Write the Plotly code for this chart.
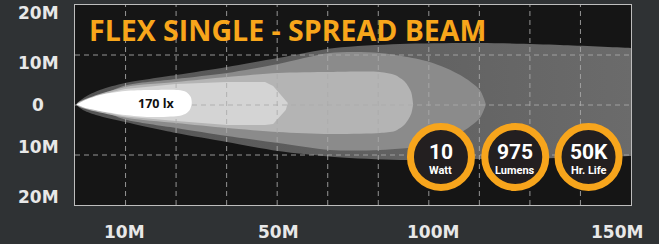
import plotly.graph_objects as go

# ---- axis labels / grid ----
x_tick_labels = ["10M", "50M", "100M", "150M"]
x_tick_pos = [0.97, 4.02, 7.09, 10.73]
y_tick_labels = ["20M", "10M", "0", "10M", "20M"]
y_tick_pos = [18.4, 8.4, 0.0, -8.4, -18.4]
grid_x = [1, 2, 3, 4, 5, 6, 7, 8, 9, 10]
grid_y = [-10, 0, 10]

# ---- beam contours (x in grid cells, y in metres) ----
outer_x = [0.03, 0.20, 0.49, 0.99, 2.00, 3.01, 4.02, 5.14, 6.43, 8.01, 9.59, 11.0, 11.4]
outer_top = [0.1, 1.6, 3.0, 4.4, 6.0, 7.6, 9.4, 11.4, 12.2, 12.4, 12.0, 11.4, 11.2]
outer_bot = [0.1, -1.2, -2.2, -3.4, -5.6, -7.4, -9.2, -10.4, -11.0, -10.8, -10.6, -10.2, -10.1]

mid_x = [0.03, 0.49, 0.99, 2.00, 3.01, 4.02, 5.04, 6.03, 7.02, 7.62, 8.01, 8.13]
mid_top = [0.1, 1.8, 3.9, 5.2, 6.4, 8.2, 10.4, 10.4, 8.6, 6.0, 3.0, 0.1]
mid_bot = [0.1, -1.0, -2.9, -4.6, -6.2, -7.6, -9.0, -9.0, -8.0, -5.6, -2.6, 0.1]

light_x = [0.03, 0.99, 2.00, 3.01, 4.02, 5.04, 6.03, 6.33, 6.53, 6.65, 6.69]
light_top = [0.1, 3.6, 4.6, 5.6, 6.4, 6.6, 6.6, 6.0, 4.6, 2.6, 0.1]
light_bot = [0.1, -2.5, -3.6, -4.6, -5.4, -5.8, -5.6, -5.2, -3.8, -1.8, 0.1]

pale_top_x = [0.03, 0.49, 0.99, 2.00, 3.01, 3.76, 3.92, 4.21]
pale_top = [0.1, 2.0, 3.2, 4.2, 4.6, 4.6, 3.8, 0.4]
pale_bot_x = [4.17, 3.92, 3.76, 3.01, 2.00, 0.99, 0.49]
pale_bot = [-1.0, -3.8, -4.0, -4.0, -3.2, -2.3, -1.2]

white_x = [0.03, 0.20, 0.49, 0.99, 1.48, 2.04, 2.20, 2.29, 2.31, 2.27, 2.18, 2.04, 1.48, 0.99, 0.49, 0.20]
white_y = [0.1, 1.0, 2.0, 2.8, 3.0, 3.0, 2.6, 1.6, 0.4, -1.0, -1.8, -2.2, -2.4, -2.0, -1.2, -0.6]

lux_label = "170 lx"
lux_pos = (1.62, 0.4)

title_text = "FLEX SINGLE - SPREAD BEAM"

# ---- badges ----
badge_x = [7.24, 8.71, 10.16]
badge_y = -10.4
badge_values = ["10", "975", "50K"]
badge_units = ["Watt", "Lumens", "Hr. Life"]

fig = go.Figure()


def band(xs, top, bot, color, shape="spline", grad=None):
    px = list(xs) + list(xs)[::-1]
    py = list(top) + list(bot)[::-1]
    kw = dict(fillcolor=color)
    if grad:
        kw = dict(fillgradient=dict(type="horizontal", colorscale=grad))
    fig.add_trace(go.Scatter(x=px, y=py, mode="lines", fill="toself",
                             line=dict(width=0, shape=shape, smoothing=0.8),
                             hoverinfo="skip", **kw))


band(outer_x, outer_top, outer_bot, "#626262", grad=[[0, "#545454"], [1, "#6c6c6c"]])
band(mid_x, mid_top, mid_bot, "#8b8b8b")
band(light_x, light_top, light_bot, "#b4b4b4")
fig.add_trace(go.Scatter(x=pale_top_x + pale_bot_x, y=pale_top + pale_bot, mode="lines",
                         fill="toself", fillcolor="#d4d4d4", line=dict(width=0),
                         hoverinfo="skip"))

# grid lines (above beam)
gx, gy = [], []
for v in grid_x:
    gx += [v, v, None]
    gy += [-20, 20, None]
for v in grid_y:
    gx += [0, 11, None]
    gy += [v, v, None]
fig.add_trace(go.Scatter(x=gx, y=gy, mode="lines",
                         line=dict(color="rgba(170,170,170,0.85)", width=1, dash="5px,4px"),
                         hoverinfo="skip"))

fig.add_trace(go.Scatter(x=white_x, y=white_y, mode="lines", fill="toself",
                         fillcolor="#ffffff", line=dict(width=0, shape="spline", smoothing=0.8),
                         hoverinfo="skip"))

ann = []
axis_font = dict(family="DejaVu Sans", size=17, color="#e8e8e8", weight="bold")
for lab, pos in zip(y_tick_labels, y_tick_pos):
    ann.append(dict(text=lab, x=0, xref="paper", xshift=-37, xanchor="center",
                    y=pos, yref="y", yanchor="middle", showarrow=False, font=axis_font))
for lab, pos in zip(x_tick_labels, x_tick_pos):
    ann.append(dict(text=lab, x=pos, xref="x", xanchor="center",
                    y=0, yref="paper", yshift=-27, yanchor="middle", showarrow=False, font=axis_font))

ann.append(dict(text=title_text, x=0.237, xref="x", xanchor="left", y=15.1, yref="y",
                yanchor="middle", showarrow=False,
                font=dict(family="Open Sans", size=28.5, color="#f8a61b", weight="bold")))
ann.append(dict(text=lux_label, x=lux_pos[0], y=lux_pos[1], xref="x", yref="y", showarrow=False,
                font=dict(family="Open Sans", size=12.5, color="#111111", weight="bold")))

badge_font = "Roboto, sans-serif"
shapes = []
for bx, val, unit in zip(badge_x, badge_values, badge_units):
    shapes.append(dict(type="circle", xref="x", yref="y", xsizemode="pixel", ysizemode="pixel",
                       xanchor=bx, yanchor=badge_y, x0=-30.5, x1=30.5, y0=-30.5, y1=30.5,
                       fillcolor="#231f20", line=dict(color="#f7a51c", width=7), layer="above"))
    ann.append(dict(text=val, x=bx, y=badge_y, xref="x", yref="y", yshift=5, showarrow=False,
                    font=dict(family=badge_font, size=21, color="#ffffff", weight="bold")))
    ann.append(dict(text=unit, x=bx, y=badge_y, xref="x", yref="y", yshift=-13, showarrow=False,
                    font=dict(family=badge_font, size=11, color="#ffffff", weight="bold")))

fig.update_layout(
    width=659, height=244,
    margin=dict(l=75, r=28, t=5, b=39),
    paper_bgcolor="#2f3234", plot_bgcolor="#151515",
    showlegend=False,
    annotations=ann, shapes=shapes,
    xaxis=dict(range=[0, 11], showgrid=False, zeroline=False, showticklabels=False,
               showline=True, mirror=True, linecolor="#bdbdbd", linewidth=1, fixedrange=True),
    yaxis=dict(range=[-20, 20], showgrid=False, zeroline=False, showticklabels=False,
               showline=True, mirror=True, linecolor="#bdbdbd", linewidth=1, fixedrange=True),
)

fig.write_html("out.html", config={"displayModeBar": False},
               post_script="document.body.style.margin='0';")
